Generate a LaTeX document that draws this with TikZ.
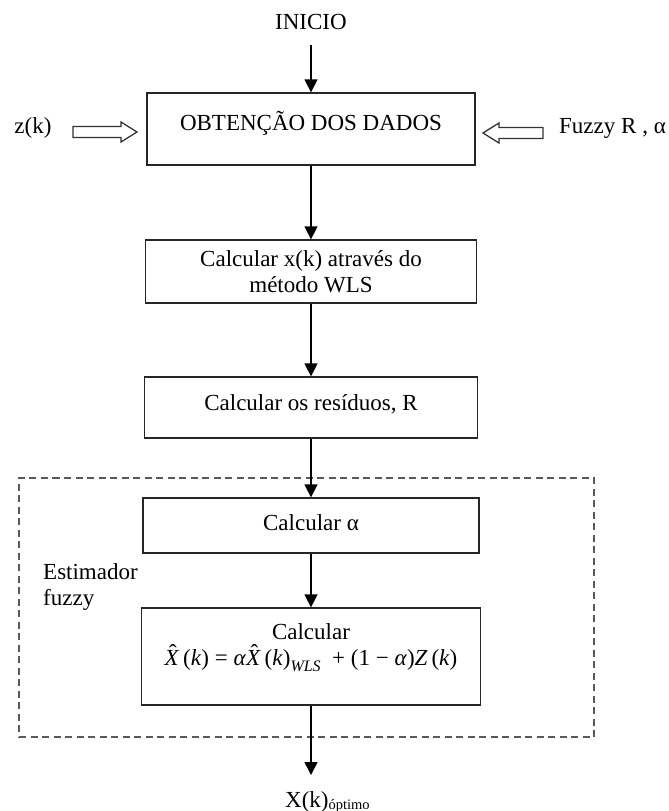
\documentclass[tikz,border=0pt]{standalone}
\usepackage{fontspec}
\setmainfont{Liberation Serif}
\usetikzlibrary{arrows.meta}

% italic symbol in the formula line
\newcommand{\iv}[1]{\textit{#1}}
% italic X with a circumflex hat that adds no width
\newcommand{\hatX}{\makebox[0pt][l]{\hspace{4.5pt}\raisebox{5pt}{ˆ}}\iv{X}}

\begin{document}
\begin{tikzpicture}[x=1pt,y=-1pt,
  font=\fontsize{23}{26}\selectfont,
  box/.style={draw=black!85, line width=1.3pt, align=center, inner sep=0pt},
  flow/.style={draw=black, line width=1.5pt, -{Triangle[length=13pt,width=13pt]}},
  hollow/.style={draw=black!80, line width=1.3pt, fill=white, line join=miter},
  fuzzyzone/.style={draw=black!65, line width=1.3pt, dash pattern=on 7pt off 4.5pt},
  lbl/.style={inner sep=0pt}]
\useasboundingbox (0,0) rectangle (669,811);

% start label
\node[lbl] (ini) at (311,22) {INICIO};

% processing steps
\node[box, minimum width=328pt, minimum height=72pt, text height=20pt, text depth=17pt]
  (b1) at (311,129) {OBTENÇÃO DOS DADOS};
\node[box, minimum width=331pt, minimum height=63pt]
  (b2) at (311,271.5) {Calcular x(k) através do\\método WLS};
\node[box, minimum width=333pt, minimum height=61pt, text height=16pt, text depth=11pt]
  (b3) at (311,407.5) {Calcular os resíduos, R};

% fuzzy estimator frame
\node[fuzzyzone, minimum width=575pt, minimum height=259pt, inner sep=0pt]
  (est) at (306.5,607.5) {};
\node[lbl, anchor=west, align=left] (estlbl) at (43,586.5) {Estimador\\fuzzy};

\node[box, minimum width=336pt, minimum height=55pt, text height=16pt, text depth=7pt]
  (b4) at (311,525.5) {Calcular α};
\node[box, minimum width=339pt, minimum height=97pt, text height=45pt, text depth=27pt]
  (b5) at (311,656.5) {Calcular\\%
  \hatX\,(\iv{k}) = \iv{α}\hatX\,(\iv{k})\raisebox{-6pt}{\fontsize{16}{16}\selectfont\iv{WLS}}\enspace
  + (1 − \iv{α})\iv{Z}\,(\iv{k})};

% inputs
\node[lbl] (zk) at (33,128) {z(k)};
\node[lbl, anchor=west] (fz) at (559,128) {Fuzzy R , α};

% output
\node[lbl, anchor=base west] (xo) at (285,807)
  {X(k)\raisebox{-2pt}{\fontsize{14.5}{15}\selectfont óptimo}};
\coordinate (outtip) at (311,775);

% flow connectors
\draw[flow, shorten <=15pt] (ini.south) -- (b1.north);
\draw[flow] (b1.south) -- (b2.north);
\draw[flow] (b2.south) -- (b3.north);
\draw[flow] (b3.south) -- (b4.north);
\draw[flow] (b4.south) -- (b5.north);
\draw[flow] (b5.south) -- (outtip);

% hollow input arrows
\coordinate (ztail) at (73,132);
\draw[hollow] (ztail) ++(0,-5.5) -- ++(48,0) -- ++(0,-4.5) -- ++(16,10)
  -- ++(-16,10) -- ++(0,-4.5) -- ++(-48,0) -- cycle;
\coordinate (ftail) at (543,133);
\draw[hollow] (ftail) ++(0,-5.5) -- ++(-44,0) -- ++(0,-4.5) -- ++(-16,10)
  -- ++(16,10) -- ++(0,-4.5) -- ++(44,0) -- cycle;
\end{tikzpicture}
\end{document}
